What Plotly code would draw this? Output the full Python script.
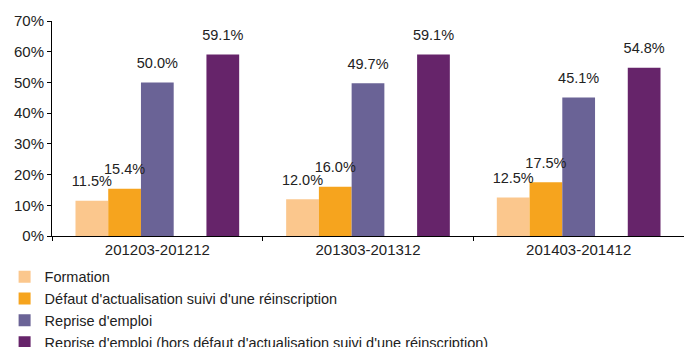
import plotly.graph_objects as go

categories = ["201203-201212", "201303-201312", "201403-201412"]
formation = [11.5, 12.0, 12.5]
defaut = [15.4, 16.0, 17.5]
reprise = [50.0, 49.7, 45.1]
reprise_hors = [59.1, 59.1, 54.8]

names = ["Formation",
         "Défaut d'actualisation suivi d'une réinscription",
         "Reprise d'emploi",
         "Reprise d'emploi (hors défaut d'actualisation suivi d'une réinscription)"]
colors = ["#FBC78D", "#F6A41E", "#6A6396", "#66246A"]

FONT = "Liberation Sans, Arial, sans-serif"
fig = go.Figure()
series = [formation, defaut, reprise, None, reprise_hors]
ci = 0
for gi, s in enumerate(series):
    og = f"g{gi}"
    if s is None:
        fig.add_trace(go.Bar(x=categories, y=[0, 0, 0], showlegend=False,
                             offsetgroup=og, alignmentgroup="a",
                             marker=dict(color="rgba(0,0,0,0)", line=dict(width=0)),
                             hoverinfo="skip"))
        fig.add_trace(go.Scatter(x=categories, y=[0, 0, 0], mode="markers", showlegend=False,
                                 offsetgroup=og, alignmentgroup="a",
                                 marker=dict(opacity=0), hoverinfo="skip"))
        continue
    fig.add_trace(go.Bar(x=categories, y=s, name=names[ci],
                         offsetgroup=og, alignmentgroup="a",
                         marker=dict(color=colors[ci], line=dict(width=0))))
    fig.add_trace(go.Scatter(x=categories, y=s, mode="markers+text", showlegend=False,
                             offsetgroup=og, alignmentgroup="a",
                             text=[f"{v:.1f}%" for v in s], textposition="top center",
                             marker=dict(size=16, opacity=0),
                             textfont=dict(size=14.5, color="#222222", family=FONT),
                             cliponaxis=False, hoverinfo="skip"))
    ci += 1

fig.update_layout(
    width=684, height=347,
    margin=dict(l=52, r=0, t=21, b=111, autoexpand=False),
    barmode="group", bargap=0.223, bargroupgap=0,
    scattermode="group", scattergap=0.223,
    plot_bgcolor="white", paper_bgcolor="white",
    font=dict(family=FONT, size=15, color="#222222"),
    showlegend=True,
    legend=dict(x=-0.075, y=-0.115, xanchor="left", yanchor="top",
                orientation="v", font=dict(size=14.5, family=FONT, color="#222222"),
                tracegroupgap=0, bgcolor="rgba(0,0,0,0)"),
)
fig.update_yaxes(range=[0, 70], dtick=10, ticksuffix="%", showgrid=False,
                 showline=True, linecolor="#000000", linewidth=1,
                 ticks="outside", ticklen=4, tickcolor="#000000",
                 tickfont=dict(size=15, family=FONT, color="#222222"), zeroline=False)
fig.update_xaxes(showline=True, linecolor="#000000", linewidth=1,
                 ticks="outside", ticklen=4, tickcolor="#000000", tickson="boundaries",
                 tickfont=dict(size=15, family=FONT, color="#222222"))

fig.write_html("out.html")
